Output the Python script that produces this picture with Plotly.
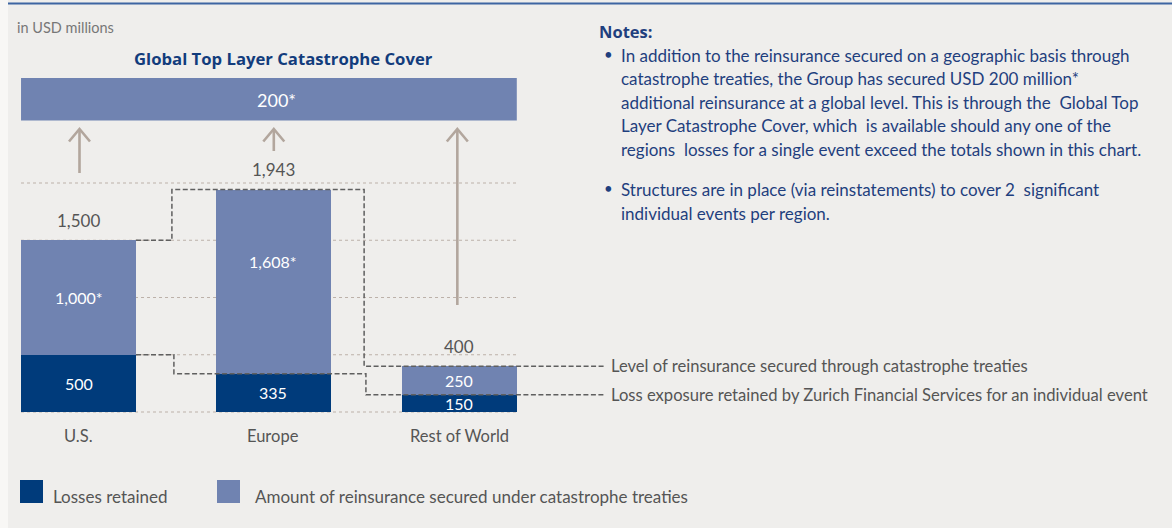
import plotly.graph_objects as go

# ---------------- data ----------------
categories = ["U.S.", "Europe", "Rest of World"]
losses_retained = [500, 335, 150]
reinsurance_secured = [1000, 1608, 250]
reinsurance_labels = ["1,000*", "1,608*", "250"]
global_cover_label = "200*"
grid_values = [0, 500, 1000, 1500, 2000]
line_labels = [
    "Level of reinsurance secured through catastrophe treaties",
    "Loss exposure retained by Zurich Financial Services for an individual event",
]
legend_labels = ["Losses retained", "Amount of reinsurance secured under catastrophe treaties"]
notes_title = "Notes:"
note1_lines = [
    "In addition to the reinsurance secured on a geographic basis through",
    "catastrophe treaties, the Group has secured USD 200 million*",
    "additional reinsurance at a global level. This is through the  Global Top",
    "Layer Catastrophe Cover, which  is available should any one of the",
    "regions  losses for a single event exceed the totals shown in this chart.",
]
note2_lines = [
    "Structures are in place (via reinstatements) to cover 2  significant",
    "individual events per region.",
]

totals = [a + b for a, b in zip(losses_retained, reinsurance_secured)]

# ---------------- layout / style ----------------
W, H = 1172, 528
NAVY = "#003b7b"
LIGHT = "#7083b1"
BG = "#efeeec"
GREY_TXT = "#555555"
NOTE_COL = "#1f3f7e"
TITLE_COL = "#123c7c"
ARROW = "#b2a69d"
GRID = "#bcb1a9"
DASH = "#5f5f5f"
FONT = "Lato, 'Open Sans', sans-serif"
BOLD_FONT = "'Open Sans', Lato, sans-serif"

x_pos = [0, 1, 1.955]
UNIT = 194.8      # px per x unit
X0PX = 78.5       # pixel x of first category
BW = 0.59         # bar width (x units)
Y0PX = 412        # pixel y of value 0
YS = 0.1145       # px per value unit


def xd(px):
    return (px - X0PX) / UNIT


def yd(py):
    return (Y0PX - py) / YS


fig = go.Figure()
fig.add_trace(go.Bar(x=x_pos, y=losses_retained, width=BW, marker=dict(color=NAVY, line=dict(width=0)),
                     hoverinfo="skip", showlegend=False))
fig.add_trace(go.Bar(x=x_pos, y=reinsurance_secured, width=BW, marker=dict(color=LIGHT, line=dict(width=0)),
                     hoverinfo="skip", showlegend=False))

# dashed step lines
left = x_pos[0] + BW / 2
m1 = (x_pos[0] + BW / 2 + x_pos[1] - BW / 2) / 2
m2 = (x_pos[1] + BW / 2 + x_pos[2] - BW / 2) / 2
end = xd(604)
for vals, o1, o2 in [(totals, -4, -2.2), (losses_retained, -2, -0.4)]:
    a = m1 + o1 / UNIT
    b = m2 + o2 / UNIT
    fig.add_trace(go.Scatter(
        x=[left, a, a, b, b, end],
        y=[vals[0], vals[0], vals[1], vals[1], vals[2], vals[2]],
        mode="lines", line=dict(color=DASH, width=1.5, dash="5px,2.5px"),
        hoverinfo="skip", showlegend=False))

shapes = []
# left light strip and top rule
shapes.append(dict(type="rect", xref="x", yref="y", x0=xd(0), x1=xd(8), y0=yd(H), y1=yd(0),
                   fillcolor="#f8f7f5", line=dict(width=0), layer="below"))
shapes.append(dict(type="line", xref="x", yref="y", x0=xd(8), x1=xd(W), y0=yd(3.5), y1=yd(3.5),
                   line=dict(color="#3d65a2", width=2)))
# gridlines
gx0 = x_pos[0] - BW / 2
gx1 = x_pos[2] + BW / 2
for v in grid_values:
    shapes.append(dict(type="line", xref="x", yref="y", x0=gx0, x1=gx1, y0=v, y1=v,
                       line=dict(color=GRID, width=1, dash="dot"), layer="below"))
# global top layer bar
shapes.append(dict(type="rect", xref="x", yref="y", x0=gx0, x1=gx1, y0=yd(120.5), y1=yd(78),
                   fillcolor=LIGHT, line=dict(width=0)))
# arrows
arrow_bottom_px = [173, 151, 305]
arrow_dx_px = [1, 0.5, -2]
ARROW_TOP = 129
hw = 10.5 / UNIT
hh = 12.5
for xp, bot, dx in zip(x_pos, arrow_bottom_px, arrow_dx_px):
    xa = xp + dx / UNIT
    shapes.append(dict(type="line", xref="x", yref="y", x0=xa, x1=xa, y0=yd(bot), y1=yd(ARROW_TOP + 1),
                       line=dict(color=ARROW, width=2.6)))
    shapes.append(dict(type="path", xref="x", yref="y",
                       path=f"M {xa - hw},{yd(ARROW_TOP + hh)} L {xa},{yd(ARROW_TOP)} L {xa + hw},{yd(ARROW_TOP + hh)}",
                       line=dict(color=ARROW, width=2.6)))
# legend squares
for x0p, col in [(20, NAVY), (217, LIGHT)]:
    shapes.append(dict(type="rect", xref="x", yref="y", x0=xd(x0p), x1=xd(x0p + 23), y0=yd(503), y1=yd(480),
                       fillcolor=col, line=dict(width=0)))

ann = []


def T(x, y, text, size, color, xanchor="center", bold=False, yshift=0, family=FONT):
    ann.append(dict(x=x, y=y, xref="x", yref="y", text=f"<b>{text}</b>" if bold else text,
                    showarrow=False, xanchor=xanchor, yanchor="middle", yshift=yshift,
                    font=dict(family=family, size=size, color=color)))


T(xd(15), yd(27), "in USD millions", 14.5, "#777777", xanchor="left")
T(xd(283), yd(58), "Global Top Layer Catastrophe Cover", 16.7, TITLE_COL, bold=True, family=BOLD_FONT)
T(xd(276), yd(100), global_cover_label, 18, "white")

inside_shift = [0, 20, 0]
for i, xp in enumerate(x_pos):
    T(xp, totals[i], f"{totals[i]:,}", 17, GREY_TXT, yshift=20)
    T(xp, losses_retained[i] + reinsurance_secured[i] / 2, reinsurance_labels[i], 16, "white",
      yshift=inside_shift[i])
    T(xp, losses_retained[i] / 2, f"{losses_retained[i]:,}", 16, "white")
    T(xp, yd(436), categories[i], 16.5, GREY_TXT)

T(xd(609), totals[2], line_labels[0], 16.6, GREY_TXT, xanchor="left")
T(xd(609), losses_retained[2], line_labels[1], 16.6, GREY_TXT, xanchor="left")

T(xd(51), yd(496), legend_labels[0], 17, GREY_TXT, xanchor="left")
T(xd(253), yd(496), legend_labels[1], 17, GREY_TXT, xanchor="left")

T(xd(597), yd(31), notes_title, 16.5, NOTE_COL, xanchor="left", bold=True, family=BOLD_FONT)
T(xd(602), yd(54), "•", 15, NOTE_COL, xanchor="left")
for k, line in enumerate(note1_lines):
    T(xd(619), yd(55 + 23.5 * k), line, 17, NOTE_COL, xanchor="left")
T(xd(602), yd(188), "•", 15, NOTE_COL, xanchor="left")
for k, line in enumerate(note2_lines):
    T(xd(619), yd(189 + 24 * k), line, 17, NOTE_COL, xanchor="left")

fig.update_layout(
    width=W, height=H, margin=dict(l=0, r=0, t=0, b=0),
    paper_bgcolor=BG, plot_bgcolor=BG, barmode="stack", bargap=0,
    xaxis=dict(range=[xd(0), xd(W)], visible=False, fixedrange=True),
    yaxis=dict(range=[yd(H), yd(0)], visible=False, fixedrange=True),
    shapes=shapes, annotations=ann, showlegend=False,
)
fig.write_html("out.html", config={"displayModeBar": False},
               post_script="document.body.style.margin='0';document.body.style.background='%s';" % BG)
